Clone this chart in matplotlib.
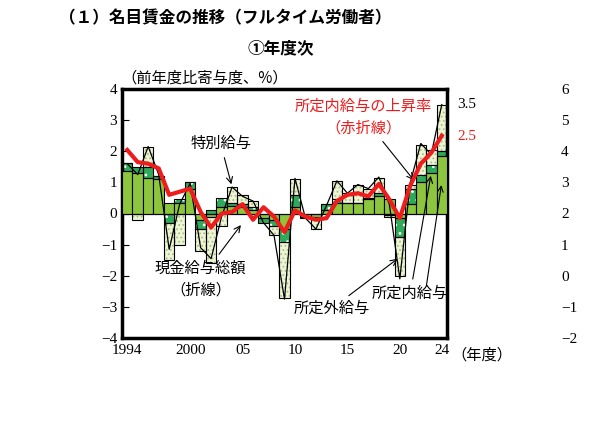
import matplotlib
matplotlib.use("Agg")
import matplotlib.pyplot as plt
import numpy as np

plt.rcParams['font.family'] = ['Noto Sans CJK JP', 'DejaVu Sans']
plt.rcParams['hatch.linewidth'] = 0.8

years = list(range(1994, 2025))
scheduled = [1.37, 1.29, 1.13, 1.10, 0.35, 0.35, 0.80, -0.20, -0.10, 0.20, 0.25, 0.20, 0.10, -0.15, -0.20, -0.50,
             0.20, -0.10, -0.10, 0.10, 0.35, 0.35, 0.35, 0.45, 0.55, 0.45, -0.15, 0.30, 1.00, 1.30, 1.85]
overtime = [0.25, 0.20, 0.37, 0.10, -0.30, 0.10, 0.20, -0.30, 0.10, 0.30, 0.10, 0.10, 0.10, -0.15, -0.20, -0.40,
            0.40, 0.00, 0.00, 0.20, 0.10, 0.00, 0.00, 0.05, 0.10, -0.05, -0.60, 0.50, 0.25, 0.25, 0.15]
special = [0.00, -0.20, 0.65, 0.00, -1.20, -1.00, 0.00, -0.70, -1.50, -0.40, 0.50, 0.30, 0.20, 0.00, -0.30, -1.80,
           0.50, -0.05, -0.40, 0.00, 0.60, 0.30, 0.55, 0.30, 0.50, -0.05, -1.25, 0.10, 0.95, 0.50, 1.50]
total = [1.60, 1.25, 2.15, 1.25, -1.15, 0.30, 0.97, -1.10, -1.45, -0.10, 0.85, 0.55, 0.40, -0.30, -0.70, -2.75,
         1.13, -0.15, -0.50, 0.25, 1.05, 0.65, 0.93, 0.80, 1.17, 0.30, -2.10, 1.00, 2.25, 1.90, 3.50]
red = [2.04, 1.65, 1.60, 1.45, 0.60, 0.70, 0.80, 0.05, -0.45, 0.00, 0.05, 0.30, -0.20, 0.20, -0.10, -0.60,
       0.10, -0.10, -0.20, -0.15, 0.40, 0.60, 0.65, 0.55, 0.95, 0.45, -0.15, 0.90, 1.60, 1.95, 2.50]
xtick_years = [1994, 2000, 2005, 2010, 2015, 2020, 2024]
xtick_labels = ['1994', '2000', '05', '10', '15', '20', '24']
right_ticks = [6, 5, 4, 3, 2, 1, 0, -1, -2]

fig = plt.figure(figsize=(5.9, 4.25), dpi=100)
ax = fig.add_axes([122/590, 87/425, 325/590, 249/425])

x = np.array(years)
series = [(scheduled, dict(facecolor='#8cc63f', hatch=None)),
          (overtime, dict(facecolor='#2eaa5a', hatch='..', hc='white')),
          (special, dict(facecolor='#eef5d6', hatch='....', hc='#a8c080'))]
pos = np.zeros(len(x)); neg = np.zeros(len(x))
for vals, st in series:
    v = np.array(vals)
    bottom = np.where(v >= 0, pos, neg)
    if st['hatch']:
        ax.bar(x, v, bottom=bottom, width=1.0, facecolor=st['facecolor'], hatch=st['hatch'],
               edgecolor=st['hc'], linewidth=0, zorder=2)
        ax.bar(x, v, bottom=bottom, width=1.0, fill=False, edgecolor='black', linewidth=0.8, zorder=3)
    else:
        ax.bar(x, v, bottom=bottom, width=1.0, facecolor=st['facecolor'], edgecolor='black', linewidth=0.8, zorder=3)
    pos = pos + np.where(v >= 0, v, 0)
    neg = neg + np.where(v < 0, v, 0)

ax.plot(x, total, color='black', lw=0.9, zorder=4)
ax.plot(x, red, color='#ee1c1c', lw=3, zorder=5)
ax.axhline(0, color='black', lw=0.8, zorder=3)

ax.set_xlim(1993.5, 2024.5)
ax.set_ylim(-4, 4)
ax.set_yticks(range(-4, 5))
ax.tick_params(axis='y', direction='in', length=5, labelsize=11)
ax.tick_params(axis='x', length=0, labelsize=11, pad=4)
ax.set_xticks(xtick_years)
ax.set_xticklabels(xtick_labels, family=['Liberation Serif', 'DejaVu Serif'])
for l in ax.get_yticklabels():
    l.set_family(['Liberation Serif', 'DejaVu Serif'])
for s in ax.spines.values():
    s.set_linewidth(2.5)

ax2 = ax.twinx()
ax2.set_ylim(-2, 6)
ax2.set_yticks(right_ticks)
ax2.tick_params(axis='y', length=0, labelsize=11, pad=82)
for l in ax2.get_yticklabels():
    l.set_family(['Liberation Serif', 'DejaVu Serif'])
for s in ax2.spines.values():
    s.set_visible(False)

fs = 11
fig.text(0.10, 0.945, '（１）名目賃金の推移（フルタイム労働者）', fontsize=12, weight='bold')
fig.text(0.42, 0.875, '①年度次', fontsize=12, weight='bold')
fig.text(0.205, 0.805, '（前年度比寄与度、%）', fontsize=fs)
fig.text(0.775, 0.745, '3.5', fontsize=fs, family=['Liberation Serif', 'DejaVu Serif'])
fig.text(0.775, 0.67, '2.5', fontsize=fs, color='#ee1c1c', family=['Liberation Serif', 'DejaVu Serif'])
fig.text(0.765, 0.155, '（年度）', fontsize=fs)

ak = dict(arrowstyle='->', color='black', lw=0.8)
ax.annotate('特別給与', xy=(2004, 0.85), xytext=(2000, 2.1), fontsize=fs, arrowprops=ak)
ax.annotate('現金給与総額\n（折線）', xy=(2005, -0.3), xytext=(2001, -2.6), fontsize=fs, ha='center',
            arrowprops=ak, linespacing=1.4)
ax.annotate('所定外給与', xy=(2020, -1.4), xytext=(2013.5, -3.2), fontsize=fs, ha='center', arrowprops=ak)
ax.annotate('所定内給与', xy=(2023, 1.3), xytext=(2021, -2.7), fontsize=fs, ha='center', arrowprops=ak)
ax.annotate('', xy=(2024, 1.0), xytext=(2022.5, -2.4), arrowprops=ak)
ax.annotate('所定内給与の上昇率\n（赤折線）', xy=(2021.5, 1.0), xytext=(2016.5, 2.6), fontsize=fs,
            ha='center', color='#ee1c1c', arrowprops=ak, linespacing=1.4)

fig.savefig('out.png', dpi=100)
